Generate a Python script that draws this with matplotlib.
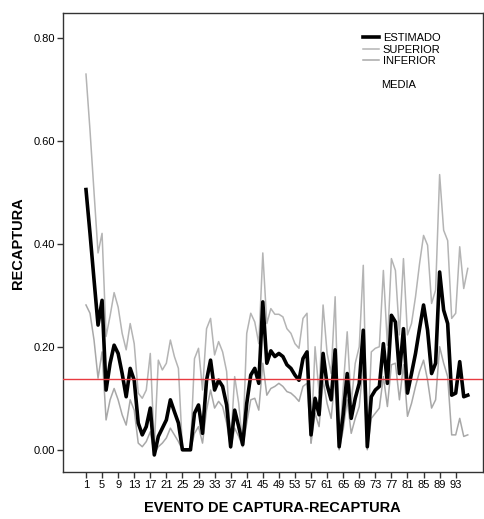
import numpy as np
from matplotlib import pyplot as plt

plt.rcParams['font.family'] = ['Liberation Sans', 'DejaVu Sans']

# evento de captura-recaptura 1..96
evento = np.arange(1, 97)

estimado = [0.505, 0.42, 0.33, 0.242, 0.29, 0.116, 0.168, 0.203, 0.187, 0.148,
            0.103, 0.158, 0.135, 0.052, 0.029, 0.045, 0.081, -0.01, 0.026, 0.042,
            0.058, 0.097, 0.074, 0.052, 0.0, 0.0, 0.0, 0.071, 0.087, 0.032,
            0.135, 0.174, 0.116, 0.135, 0.123, 0.087, 0.006, 0.077, 0.045, 0.01,
            0.09, 0.145, 0.158, 0.129, 0.287, 0.168, 0.192, 0.181, 0.187, 0.181,
            0.165, 0.158, 0.145, 0.135, 0.177, 0.19, 0.029, 0.1, 0.068, 0.187,
            0.126, 0.097, 0.194, 0.006, 0.068, 0.148, 0.061, 0.1, 0.129, 0.232,
            0.006, 0.103, 0.116, 0.123, 0.206, 0.129, 0.261, 0.248, 0.148, 0.235,
            0.11, 0.148, 0.187, 0.235, 0.281, 0.232, 0.148, 0.168, 0.345, 0.271,
            0.245, 0.106, 0.11, 0.171, 0.103, 0.106]

superior = [0.729, 0.62, 0.50, 0.382, 0.42, 0.22, 0.26, 0.305, 0.277, 0.226,
            0.194, 0.245, 0.206, 0.11, 0.1, 0.116, 0.187, 0.006, 0.174, 0.155,
            0.168, 0.213, 0.181, 0.158, 0.002, 0.002, 0.002, 0.177, 0.197, 0.116,
            0.235, 0.255, 0.184, 0.21, 0.19, 0.152, 0.013, 0.142, 0.09, 0.01,
            0.226, 0.265, 0.248, 0.206, 0.382, 0.245, 0.274, 0.263, 0.263, 0.258,
            0.235, 0.226, 0.206, 0.197, 0.255, 0.265, 0.013, 0.2, 0.11, 0.281,
            0.187, 0.148, 0.297, 0.006, 0.12, 0.229, 0.09, 0.168, 0.2, 0.358,
            0.006, 0.19, 0.197, 0.2, 0.348, 0.203, 0.371, 0.348, 0.223, 0.371,
            0.223, 0.245, 0.297, 0.361, 0.416, 0.397, 0.284, 0.31, 0.534, 0.426,
            0.406, 0.255, 0.265, 0.394, 0.313, 0.352]

inferior = [0.281, 0.265, 0.213, 0.139, 0.19, 0.058, 0.097, 0.119, 0.097, 0.068,
            0.048, 0.097, 0.077, 0.013, 0.006, 0.016, 0.035, -0.008, 0.006, 0.013,
            0.023, 0.042, 0.029, 0.016, 0.0, 0.0, 0.0, 0.032, 0.045, 0.013,
            0.077, 0.116, 0.081, 0.094, 0.084, 0.052, 0.003, 0.042, 0.026, 0.006,
            0.052, 0.097, 0.1, 0.077, 0.168, 0.106, 0.119, 0.123, 0.129, 0.123,
            0.113, 0.11, 0.103, 0.094, 0.123, 0.129, 0.013, 0.071, 0.045, 0.135,
            0.09, 0.061, 0.142, 0.0, 0.039, 0.097, 0.032, 0.061, 0.084, 0.168,
            0.0, 0.061, 0.071, 0.081, 0.142, 0.084, 0.165, 0.168, 0.097, 0.165,
            0.065, 0.09, 0.123, 0.152, 0.174, 0.135, 0.081, 0.097, 0.2, 0.168,
            0.142, 0.029, 0.029, 0.061, 0.026, 0.029]

media = 0.137

fig = plt.figure(figsize=(4.84, 5.19), dpi=100)
ax = fig.add_axes([0.1295, 0.0906, 0.8685, 0.8838])

ax.plot(evento, superior, color='#b4b4b4', lw=1.1, label='SUPERIOR', zorder=2)
ax.plot(evento, inferior, color='#a8a8a8', lw=1.1, label='INFERIOR', zorder=2)
ax.plot(evento, estimado, color='black', lw=2.6, label='ESTIMADO', zorder=3)
ax.axhline(media, color='#e83a40', lw=1.0, zorder=4)

ax.set_xlim(-4.8, 99.8)
ax.set_ylim(-0.043, 0.847)
ax.set_xticks(np.arange(1, 97, 4))
ax.set_yticks([0.0, 0.2, 0.4, 0.6, 0.8])
ax.set_yticklabels(['0.00', '0.20', '0.40', '0.60', '0.80'])
ax.tick_params(labelsize=8, length=4, width=1, color='#333333', pad=1.5)

for sp in ax.spines.values():
    sp.set_color('#333333')
    sp.set_linewidth(1.0)

ax.set_xlabel('EVENTO DE CAPTURA-RECAPTURA', fontsize=10.5, fontweight='bold', labelpad=8)
ax.set_ylabel('RECAPTURA', fontsize=10.5, fontweight='bold', labelpad=6)

h, l = ax.get_legend_handles_labels()
order = [2, 0, 1]
leg = ax.legend([h[i] for i in order], [l[i] for i in order], loc='upper left',
                bbox_to_anchor=(0.705, 0.967), frameon=False, fontsize=8,
                handlelength=1.4, handletextpad=0.35, labelspacing=0.15,
                borderaxespad=0)
ax.text(0.758, 0.844, 'MEDIA', transform=ax.transAxes, fontsize=8, va='center')

fig.savefig('out.png', dpi=100)
